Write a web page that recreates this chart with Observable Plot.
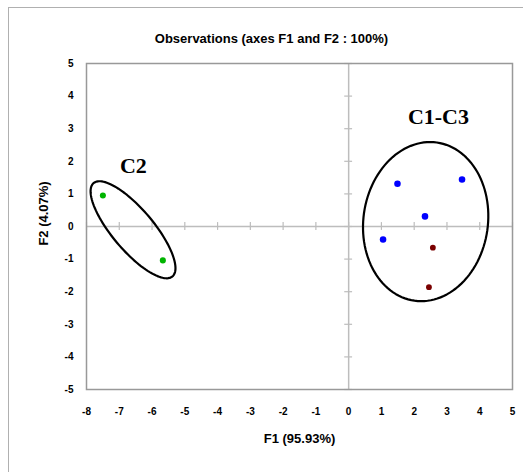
<!DOCTYPE html>
<html>
<head>
<meta charset="utf-8">
<script src="https://cdn.jsdelivr.net/npm/d3@7"></script>
<script src="https://cdn.jsdelivr.net/npm/@observablehq/plot@0.6"></script>
<style>
  html, body { margin: 0; padding: 0; background: #fff; }
  #wrap { position: relative; width: 523px; height: 472px; overflow: hidden; }
  #border { position: absolute; left: 8px; top: 7px; width: 600px; height: 600px; border: 1.5px solid #b0b0b0; }
  #chart { position: absolute; left: 0; top: 0; }
</style>
</head>
<body>
<div id="wrap"><div id="border"></div><div id="chart"></div></div>
<script>
// Observations (F1, F2)
const obsF1 = [-7.5, -5.67, 1.49, 3.46, 2.33, 1.05, 2.57, 2.45];
const obsF2 = [0.95, -1.04, 1.31, 1.44, 0.31, -0.40, -0.65, -1.86];
const obsGroup = ["C2", "C2", "C1", "C1", "C1", "C1", "C3", "C3"];

// Cluster ellipses
const clusterNames = ["C2", "C1-C3"];
const clusterCx = [-6.58, 2.35];
const clusterCy = [-0.1, 0.15];
const clusterA = [1.87, 2.45];
const clusterB = [0.63, 1.9];
const clusterAngle = [-50, 82];
const clusterLabelX = [-6.57, 2.74];
const clusterLabelY = [1.87, 3.37];

const xTicks = [-8, -7, -6, -5, -4, -3, -2, -1, 0, 1, 2, 3, 4, 5];
const yTicks = [-5, -4, -3, -2, -1, 0, 1, 2, 3, 4, 5];

const groupColors = {C1: "#0000ff", C2: "#00b400", C3: "#7a0000"};
const groupRadius = {C1: 3.6, C2: 3.1, C3: 2.8};

const obs = obsF1.map((x, i) => ({x, y: obsF2[i], g: obsGroup[i]}));

const ellipsePts = [];
clusterNames.forEach((name, k) => {
  const t = clusterAngle[k] * Math.PI / 180;
  for (let s = 0; s <= 120; s++) {
    const u = s / 120 * 2 * Math.PI;
    const ex = clusterA[k] * Math.cos(u), ey = clusterB[k] * Math.sin(u);
    ellipsePts.push({name, x: clusterCx[k] + ex * Math.cos(t) - ey * Math.sin(t), y: clusterCy[k] + ex * Math.sin(t) + ey * Math.cos(t)});
  }
});
const labels = clusterNames.map((n, k) => ({n, x: clusterLabelX[k], y: clusterLabelY[k]}));

const font = "'Liberation Sans', Arial, sans-serif";

const plot = Plot.plot({
  width: 523,
  height: 472,
  marginLeft: 86,
  marginRight: 11,
  marginTop: 63,
  marginBottom: 83,
  style: {fontFamily: font, background: "transparent", overflow: "visible"},
  x: {domain: [-8, 5], ticks: xTicks},
  y: {domain: [-5, 5], ticks: yTicks},
  marks: [
    Plot.ruleX([0], {stroke: "#bdbdbd", strokeWidth: 1.5}),
    Plot.ruleY([0], {stroke: "#bdbdbd", strokeWidth: 1.5}),
    Plot.ruleX(xTicks, {x: d => d, y1: -0.12, y2: 0.12, stroke: "#bdbdbd", strokeWidth: 1.2}),
    Plot.ruleY(yTicks, {y: d => d, x1: -0.12, x2: 0.12, stroke: "#bdbdbd", strokeWidth: 1.2}),
    Plot.frame({stroke: "#999", strokeWidth: 1.5}),
    Plot.axisX({ticks: xTicks, tickSize: 0, tickPadding: 18, fontSize: 10, fontWeight: "bold", fill: "#000", label: null, tickFormat: d => d < 0 ? "-" + Math.abs(d) : String(d)}),
    Plot.axisY({ticks: yTicks, tickSize: 0, tickPadding: 13, fontSize: 10, fontWeight: "bold", fill: "#000", label: null, tickFormat: d => d < 0 ? "-" + Math.abs(d) : String(d)}),
    Plot.line(ellipsePts, {x: "x", y: "y", z: "name", stroke: "#000", strokeWidth: 2.2}),
    Plot.dot(obs, {x: "x", y: "y", r: d => groupRadius[d.g], fill: d => groupColors[d.g], stroke: null}),
    Plot.text(labels, {x: "x", y: "y", text: "n", fontFamily: "'Liberation Serif', 'DejaVu Serif', serif", fontWeight: "bold", fontSize: 22, fill: "#000"}),
    Plot.text(["Observations (axes F1 and F2 : 100%)"], {frameAnchor: "top", dx: -28, dy: -30, fontSize: 13, fontWeight: "bold", fill: "#000"}),
    Plot.text(["F1 (95.93%)"], {frameAnchor: "bottom", dy: 53, fontSize: 13, fontWeight: "bold", fill: "#000"}),
    Plot.text(["F2 (4.07%)"], {x: [-8], y: [0.4], dx: -43, textAnchor: "middle", rotate: -90, fontSize: 13, fontWeight: "bold", fill: "#000"})
  ]
});
plot.style.overflow = "visible";
document.getElementById("chart").appendChild(plot);
</script>
</body>
</html>
